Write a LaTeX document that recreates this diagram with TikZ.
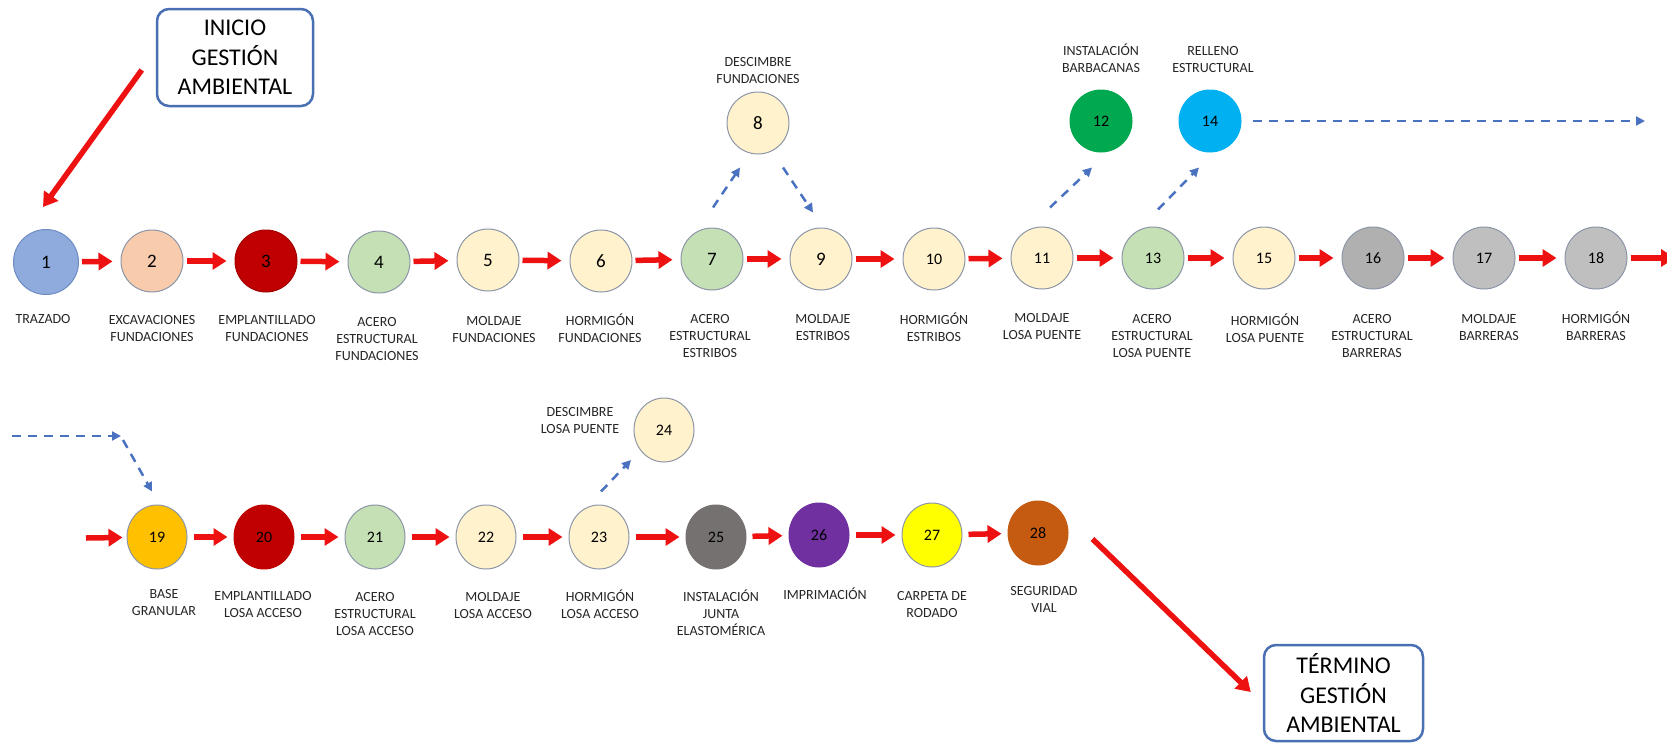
\documentclass[tikz,border=0pt]{standalone}
\usepackage{fontspec}
\setmainfont{Carlito}
\usetikzlibrary{arrows.meta,shapes.geometric}

% stage fills
\definecolor{cBlue}{HTML}{8FAADC}
\definecolor{cPeach}{HTML}{F8CBAD}
\definecolor{cDarkRed}{HTML}{C00000}
\definecolor{cSage}{HTML}{C5E0B4}
\definecolor{cCream}{HTML}{FFF2CC}
\definecolor{cGreen}{HTML}{00A84F}
\definecolor{cCyan}{HTML}{00B0F0}
\definecolor{cGray}{HTML}{BFBFBF}
\definecolor{cAmber}{HTML}{FFC000}
\definecolor{cSlate}{HTML}{767171}
\definecolor{cPurple}{HTML}{7030A0}
\definecolor{cYellow}{HTML}{FFFF00}
\definecolor{cRust}{HTML}{C55A11}
% outlines, connectors, text
\definecolor{rimc}{HTML}{8C96A8}
\definecolor{rimblue}{HTML}{6F8CC4}
\definecolor{flowred}{HTML}{EE1111}
\definecolor{linkblue}{HTML}{4A72C0}
\definecolor{boxblue}{HTML}{4A70B4}
\definecolor{capc}{HTML}{262626}

% stacked, centred caption whose baseline is that of its first line
\newcommand{\stk}[1]{\begin{tabular}[t]{@{}c@{}}#1\end{tabular}}

\begin{document}
\begin{tikzpicture}[x=1pt,y=-1pt,
  stage/.style={circle, draw=rimc, line width=1pt, minimum size=62pt, inner sep=0pt,
    text=black, font=\fontsize{19}{19}\selectfont},
  stagetwo/.style={stage, font=\fontsize{16}{16}\selectfont},
  lowstage/.style={ellipse, draw=rimc, line width=1pt, minimum width=60pt, minimum height=64pt,
    inner sep=0pt, text=black, font=\fontsize{16}{16}\selectfont},
  caption/.style={anchor=base, inner sep=0pt, text=capc, font=\fontsize{14}{17}\selectfont},
  flow/.style={draw=flowred, line width=5.5pt, -{Triangle[length=14pt,width=17pt]}},
  flowtop/.style={flow, shorten <=3pt, shorten >=8pt},
  flowlow/.style={flow, shorten <=6pt, shorten >=6pt},
  link/.style={draw=linkblue, line width=2.5pt, dash pattern=on 9pt off 7pt,
    -{Triangle[length=9pt,width=9pt]}},
  milestone/.style={draw=boxblue, line width=2.5pt, rounded corners=12pt, fill=white,
    align=center, inner sep=0pt, text=black, font=\fontsize{24}{29.5}\selectfont}
]
\useasboundingbox (0,0) rectangle (1667,744);
\clip (0,0) rectangle (1667,744);
\fill[white] (0,0) rectangle (1667,744);

% ---------- start / end milestones ----------
\node[milestone, minimum width=156pt, minimum height=97pt] (inicio) at (235,57.5)
  {INICIO\\GESTIÓN\\AMBIENTAL};
\node[milestone, minimum width=159pt, minimum height=96pt] (termino) at (1343.5,693)
  {TÉRMINO\\GESTIÓN\\AMBIENTAL};

% ---------- upper sequence ----------
\node[stage, fill=cBlue, draw=rimblue, minimum size=65pt] (n1) at (46,262) {1};
\node[stage, fill=cPeach]    (n2)  at (152,261) {2};
\node[stage, fill=cDarkRed, draw=cDarkRed!85!black] (n3) at (266,261) {3};
\node[stage, fill=cSage]     (n4)  at (379,262) {4};
\node[stage, fill=cCream]    (n5)  at (488,260) {5};
\node[stage, fill=cCream]    (n6)  at (601,261) {6};
\node[stage, fill=cSage]     (n7)  at (712,259) {7};
\node[stage, fill=cCream]    (n8)  at (758,123) {8};
\node[stage, fill=cCream]    (n9)  at (821,259) {9};
\node[stagetwo, fill=cCream] (n10) at (934,259) {10};
\node[stagetwo, fill=cCream] (n11) at (1042,258) {11};
\node[stagetwo, fill=cGreen, draw=cGreen] (n12) at (1101,121) {12};
\node[stagetwo, fill=cSage]  (n13) at (1153,258) {13};
\node[stagetwo, fill=cCyan, draw=cCyan]  (n14) at (1210,121) {14};
\node[stagetwo, fill=cCream] (n15) at (1264,258) {15};
\node[stagetwo, fill=cGray!92!black] (n16) at (1373,258) {16};
\node[stagetwo, fill=cGray]  (n17) at (1484,258) {17};
\node[stagetwo, fill=cGray]  (n18) at (1596,258) {18};

% ---------- lower sequence ----------
\node[lowstage, fill=cAmber]   (n19) at (157,537) {19};
\node[lowstage, fill=cDarkRed, draw=cDarkRed] (n20) at (264,537) {20};
\node[lowstage, fill=cSage]    (n21) at (375,537) {21};
\node[lowstage, fill=cCream]   (n22) at (486,537) {22};
\node[lowstage, fill=cCream]   (n23) at (599,537) {23};
\node[lowstage, fill=cCream]   (n24) at (664,430) {24};
\node[lowstage, fill=cSlate, draw=cSlate]   (n25) at (716,537) {25};
\node[lowstage, fill=cPurple, draw=cPurple] (n26) at (819,535) {26};
\node[lowstage, fill=cYellow, draw=rimc]    (n27) at (932,535) {27};
\node[lowstage, fill=cRust, draw=cRust]     (n28) at (1038,533) {28};

% ---------- captions ----------
\node[caption] (l1)  at (43,323)   {\stk{TRAZADO}};
\node[caption] (l2)  at (152,324)  {\stk{EXCAVACIONES\\FUNDACIONES}};
\node[caption] (l3)  at (267,324)  {\stk{EMPLANTILLADO\\FUNDACIONES}};
\node[caption] (l4)  at (377,326)  {\stk{ACERO\\ESTRUCTURAL\\FUNDACIONES}};
\node[caption] (l5)  at (494,325)  {\stk{MOLDAJE\\FUNDACIONES}};
\node[caption] (l6)  at (600,325)  {\stk{HORMIGÓN\\FUNDACIONES}};
\node[caption] (l7)  at (710,323)  {\stk{ACERO\\ESTRUCTURAL\\ESTRIBOS}};
\node[caption] (l8)  at (758,66)   {\stk{DESCIMBRE\\FUNDACIONES}};
\node[caption] (l9)  at (823,323)  {\stk{MOLDAJE\\ESTRIBOS}};
\node[caption] (l10) at (934,324)  {\stk{HORMIGÓN\\ESTRIBOS}};
\node[caption] (l11) at (1042,322) {\stk{MOLDAJE\\LOSA PUENTE}};
\node[caption] (l12) at (1101,55)  {\stk{INSTALACIÓN\\BARBACANAS}};
\node[caption] (l13) at (1152,323) {\stk{ACERO\\ESTRUCTURAL\\LOSA PUENTE}};
\node[caption] (l14) at (1213,55)  {\stk{RELLENO\\ESTRUCTURAL}};
\node[caption] (l15) at (1265,325) {\stk{HORMIGÓN\\LOSA PUENTE}};
\node[caption] (l16) at (1372,323) {\stk{ACERO\\ESTRUCTURAL\\BARRERAS}};
\node[caption] (l17) at (1489,323) {\stk{MOLDAJE\\BARRERAS}};
\node[caption] (l18) at (1596,323) {\stk{HORMIGÓN\\BARRERAS}};

\node[caption] (l19) at (164,598)  {\stk{BASE\\GRANULAR}};
\node[caption] (l20) at (263,600)  {\stk{EMPLANTILLADO\\LOSA ACCESO}};
\node[caption] (l21) at (375,601)  {\stk{ACERO\\ESTRUCTURAL\\LOSA ACCESO}};
\node[caption] (l22) at (493,601)  {\stk{MOLDAJE\\LOSA ACCESO}};
\node[caption] (l23) at (600,601)  {\stk{HORMIGÓN\\LOSA ACCESO}};
\node[caption] (l24) at (580,416)  {\stk{DESCIMBRE\\LOSA PUENTE}};
\node[caption] (l25) at (721,601)  {\stk{INSTALACIÓN\\JUNTA\\ELASTOMÉRICA}};
\node[caption] (l26) at (825,599)  {\stk{IMPRIMACIÓN}};
\node[caption] (l27) at (932,600)  {\stk{CARPETA DE\\RODADO}};
\node[caption] (l28) at (1044,595) {\stk{SEGURIDAD\\VIAL}};

% ---------- free connector ends ----------
\coordinate (outR)  at (1675,258);
\coordinate (inL)   at (86,538);
\coordinate (dashR) at (1645,121);
\coordinate (dashL) at (12,436);
\coordinate (bend)  at (121,436);

% ---------- main flow (red) ----------
\draw[flow] ([shift={(-14,12.5)}]inicio.west) -- ([shift={(-3,-22)}]n1.north);
\draw[flowtop] (n1) -- (n2);
\draw[flowtop] (n2) -- (n3);
\draw[flowtop] (n3) -- (n4);
\draw[flowtop] (n4) -- (n5);
\draw[flowtop] (n5) -- (n6);
\draw[flowtop] (n6) -- (n7);
\draw[flowtop] (n7) -- (n9);
\draw[flowtop] (n9) -- (n10);
\draw[flowtop] (n10) -- (n11);
\draw[flowtop] (n11) -- (n13);
\draw[flowtop] (n13) -- (n15);
\draw[flowtop] (n15) -- (n16);
\draw[flowtop] (n16) -- (n17);
\draw[flowtop] (n17) -- (n18);
\draw[flow, shorten <=3pt] (n18) -- (outR);

\draw[flow, shorten >=4pt] (inL) -- (n19);
\draw[flowlow] (n19) -- (n20);
\draw[flowlow] (n20) -- (n21);
\draw[flowlow] (n21) -- (n22);
\draw[flowlow] (n22) -- (n23);
\draw[flowlow] (n23) -- (n25);
\draw[flowlow] (n25) -- (n26);
\draw[flowlow] (n26) -- (n27);
\draw[flowlow] (n27) -- (n28);
\draw[flow] ([shift={(24,6)}]n28.east) -- ([shift={(-12,-1)}]termino.west);

% ---------- side branches (blue, dashed) ----------
\draw[link] ([shift={(1,-20)}]n7.north) -- ([shift={(-18,13)}]n8.south);
\draw[link] ([shift={(25,13)}]n8.south) -- ([shift={(-8,-15)}]n9.north);
\draw[link] ([shift={(8,-19)}]n11.north) -- ([shift={(-9,15)}]n12.south);
\draw[link] ([shift={(5,-17)}]n13.north) -- ([shift={(-11,15)}]n14.south);
\draw[link] ([shift={(11,0)}]n14.east) -- (dashR);
\draw[link] (dashL) -- (bend);
\draw[link] ([shift={(2,4)}]bend) -- ([shift={(-5,-13)}]n19.north);
\draw[link] ([shift={(2,-13)}]n23.north) -- ([shift={(-33,30)}]n24.center);
\end{tikzpicture}
\end{document}
